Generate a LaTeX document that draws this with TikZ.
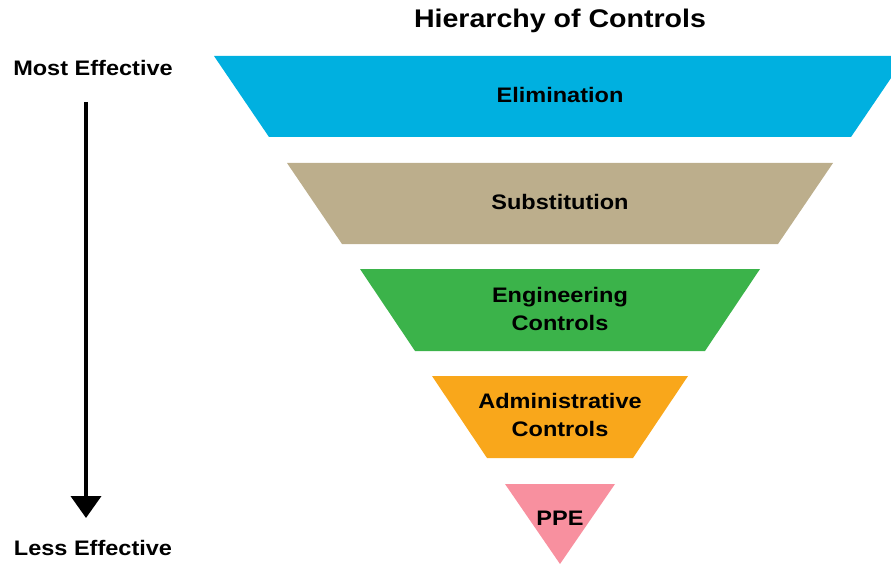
\documentclass[tikz,border=0pt]{standalone}
\usepackage{fontspec}
\setmainfont{Liberation Sans}[FakeStretch=1.12]
\usepackage{tikz}
\usetikzlibrary{arrows.meta}

\definecolor{elimblue}{HTML}{00B0E0}
\definecolor{substan}{HTML}{BCAE8C}
\definecolor{enggreen}{HTML}{3BB34A}
\definecolor{adminorange}{HTML}{F9A71B}
\definecolor{ppepink}{HTML}{F8909F}

\tikzset{
    level/.style={font=\fontsize{21}{28}\selectfont\bfseries, align=center, text=black},
    side/.style={font=\fontsize{21}{25}\selectfont\bfseries},
}

\begin{document}
\begin{tikzpicture}[x=1pt, y=-1pt]
        \useasboundingbox (0, 0) rectangle (891, 564);

        \fill[elimblue] (214, 56) -- (906, 56) -- (851, 137) -- (269, 137) -- cycle;
        \fill[substan] (287, 163) -- (833, 163) -- (778, 244) -- (342, 244) -- cycle;
        \fill[enggreen] (360, 269) -- (760, 269) -- (705, 351) -- (415, 351) -- cycle;
        \fill[adminorange] (432, 376) -- (688, 376) -- (633, 458) -- (487, 458) -- cycle;
        \fill[ppepink] (505, 484) -- (615, 484) -- (560, 564) -- cycle;

        \node (title) at (560, 21) {\fontsize{25.5}{30}\selectfont\bfseries Hierarchy of Controls};
        \node[level] (elim) at (560, 95) {Elimination};
        \node[level] (subst) at (560, 202) {Substitution};
        \node[level] (eng) at (560, 309) {Engineering\\Controls};
        \node[level] (admin) at (560, 415) {Administrative\\Controls};
        \node[level] (ppe) at (560, 518) {PPE};

        \node[side] (most) at (93, 68) {Most Effective};
        \node[side] (less) at (93, 548) {Less Effective};

        \coordinate (arrtop) at (86, 102);
        \coordinate (arrbot) at (86, 518);
        \draw[line width=4pt, -{Triangle[width=30pt, length=22pt]}] (arrtop) -- (arrbot);
    \end{tikzpicture}
\end{document}
